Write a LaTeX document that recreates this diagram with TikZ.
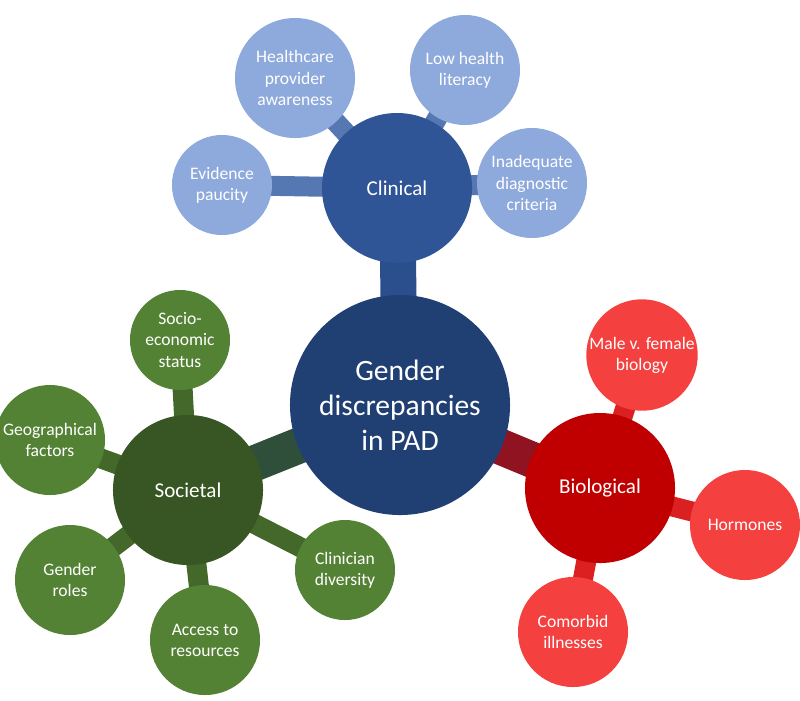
\documentclass[tikz,border=0pt]{standalone}
\usepackage{fontspec}
\setmainfont{Carlito}
\usetikzlibrary{positioning}
\definecolor{coreblue}{HTML}{203F73}
\definecolor{clinblue}{HTML}{2F5597}
\definecolor{leafblue}{HTML}{8EA9DB}
\definecolor{biored}{HTML}{C00000}
\definecolor{leafred}{HTML}{F4413F}
\definecolor{socgreen}{HTML}{375623}
\definecolor{leafgreen}{HTML}{548235}
\tikzset{
  core/.style={circle, fill=coreblue, text=white, minimum size=5.5cm, align=center, font=\fontsize{21}{25}\selectfont, inner sep=0pt},
  hub/.style={circle, minimum size=3.75cm, text=white, align=center, font=\fontsize{15}{18}\selectfont, inner sep=0pt},
  leaf/.style={circle, minimum size=2.75cm, text=white, align=center, font=\fontsize{12.5}{15}\selectfont, inner sep=0pt},
  link/.style={line width=0.9cm},
  twig/.style={line width=0.5cm},
}
\begin{document}
\begin{tikzpicture}[x=0.025cm, y=-0.025cm]
  \useasboundingbox (0,0) rectangle (800,700);
  % hubs and leaves
  \coordinate (c) at (400,405);
  \coordinate (cl) at (397,188);
  \coordinate (bi) at (600,488);
  \coordinate (so) at (188,490);
  \coordinate (l1) at (295,78);
  \coordinate (l2) at (465,70);
  \coordinate (l3) at (222,185);
  \coordinate (l4) at (532,183);
  \coordinate (r1) at (642,355);
  \coordinate (r2) at (745,525);
  \coordinate (r3) at (573,632);
  \coordinate (g1) at (180,340);
  \coordinate (g2) at (50,440);
  \coordinate (g3) at (70,580);
  \coordinate (g4) at (205,640);
  \coordinate (g5) at (345,570);

  % connectors
  \draw[link, clinblue!70!coreblue] (c) -- (cl);
  \draw[link, biored!70!coreblue] (c) -- (bi);
  \draw[link, socgreen!70!coreblue] (c) -- (so);
  \foreach \n in {l1,l2,l3,l4} \draw[twig, clinblue!60!leafblue] (cl) -- (\n);
  \foreach \n in {r1,r2,r3} \draw[twig, biored!50!leafred] (bi) -- (\n);
  \foreach \n in {g1,g2,g3,g4,g5} \draw[twig, socgreen!60!leafgreen] (so) -- (\n);

  \node[core] (core) at (c) {Gender\\discrepancies\\in PAD};
  \node[hub, fill=clinblue] (clinical) at (cl) {Clinical};
  \node[hub, fill=biored] (biological) at (bi) {Biological};
  \node[hub, fill=socgreen] (societal) at (so) {Societal};

  \node[leaf, fill=leafblue, minimum size=3cm] (aware) at (l1) {Healthcare\\provider\\awareness};
  \node[leaf, fill=leafblue] (literacy) at (l2) {Low health\\literacy};
  \node[leaf, fill=leafblue, minimum size=2.5cm] (paucity) at (l3) {Evidence\\paucity};
  \node[leaf, fill=leafblue] (criteria) at (l4) {Inadequate\\diagnostic\\criteria};

  \node[leaf, fill=leafred] (biology) at (r1) {Male v. female\\biology};
  \node[leaf, fill=leafred] (hormones) at (r2) {Hormones};
  \node[leaf, fill=leafred] (comorbid) at (r3) {Comorbid\\illnesses};

  \node[leaf, fill=leafgreen, minimum size=2.5cm] (status) at (g1) {Socio-\\economic\\status};
  \node[leaf, fill=leafgreen] (geo) at (g2) {Geographical\\factors};
  \node[leaf, fill=leafgreen] (roles) at (g3) {Gender\\roles};
  \node[leaf, fill=leafgreen] (access) at (g4) {Access to\\resources};
  \node[leaf, fill=leafgreen, minimum size=2.5cm] (diversity) at (g5) {Clinician\\diversity};
\end{tikzpicture}
\end{document}
